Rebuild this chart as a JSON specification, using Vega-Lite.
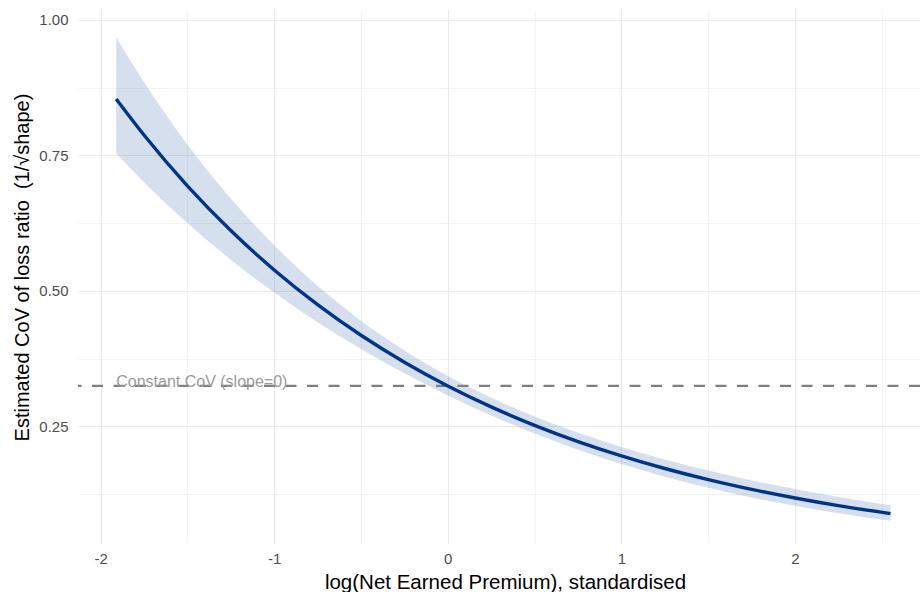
{
  "$schema": "https://vega.github.io/schema/vega-lite/v6.json",
  "width": 842,
  "height": 534,
  "autosize": {"type": "none"},
  "padding": {"left": 78, "top": 9, "right": 0, "bottom": 49},
  "background": "white",
  "config": {
    "view": {"stroke": null},
    "font": "Liberation Sans",
    "axis": {
      "domain": false,
      "ticks": false,
      "gridColor": "#ebebeb",
      "labelColor": "#4d4d4d",
      "labelFontSize": 15,
      "labelFont": "Liberation Sans",
      "titleFont": "Liberation Sans",
      "titleFontWeight": "normal",
      "titleColor": "#000000"
    }
  },
  "datasets": {
    "fit": [
      {"x": -1.91, "cov": 0.8540, "lo": 0.7533, "hi": 0.9681},
      {"x": -1.75, "cov": 0.7876, "lo": 0.7006, "hi": 0.8853},
      {"x": -1.5, "cov": 0.6939, "lo": 0.6252, "hi": 0.7701},
      {"x": -1.25, "cov": 0.6114, "lo": 0.5577, "hi": 0.6703},
      {"x": -1.0, "cov": 0.5387, "lo": 0.4970, "hi": 0.5840},
      {"x": -0.75, "cov": 0.4747, "lo": 0.4423, "hi": 0.5094},
      {"x": -0.5, "cov": 0.4182, "lo": 0.3929, "hi": 0.4451},
      {"x": -0.25, "cov": 0.3685, "lo": 0.3481, "hi": 0.3901},
      {"x": 0.0, "cov": 0.3247, "lo": 0.3073, "hi": 0.3430},
      {"x": 0.25, "cov": 0.2861, "lo": 0.2703, "hi": 0.3029},
      {"x": 0.5, "cov": 0.2521, "lo": 0.2368, "hi": 0.2683},
      {"x": 0.75, "cov": 0.2221, "lo": 0.2070, "hi": 0.2384},
      {"x": 1.0, "cov": 0.1957, "lo": 0.1805, "hi": 0.2121},
      {"x": 1.25, "cov": 0.1724, "lo": 0.1572, "hi": 0.1890},
      {"x": 1.5, "cov": 0.1519, "lo": 0.1369, "hi": 0.1686},
      {"x": 1.75, "cov": 0.1339, "lo": 0.1191, "hi": 0.1505},
      {"x": 2.0, "cov": 0.1180, "lo": 0.1036, "hi": 0.1344},
      {"x": 2.25, "cov": 0.1039, "lo": 0.0900, "hi": 0.1200},
      {"x": 2.55, "cov": 0.0893, "lo": 0.0761, "hi": 0.1048}
    ],
    "ref": [
      {"x": -1.91, "cov": 0.325, "label": "Constant CoV (slope=0)"}
    ]
  },
  "layer": [
    {
      "data": {"name": "fit"},
      "mark": {"type": "area", "color": "#00388c", "opacity": 0.16, "interpolate": "monotone"},
      "encoding": {
        "x": {
          "field": "x", "type": "quantitative",
          "scale": {"domain": [-2.13, 2.72], "nice": false, "zero": false},
          "axis": {
            "title": "log(Net Earned Premium), standardised",
            "titleFontSize": 20.5,
            "titleX": 427,
            "values": [-2, -1.5, -1, -0.5, 0, 0.5, 1, 1.5, 2, 2.5],
            "labelExpr": "datum.value % 1 == 0 ? '' + datum.value : ''",
            "labelPadding": 8,
            "titlePadding": 6,
            "gridWidth": {"condition": {"test": "datum.value % 1 == 0", "value": 1.1}, "value": 0.6}
          }
        },
        "y": {
          "field": "lo", "type": "quantitative",
          "scale": {"domain": [0.035, 1.02], "nice": false, "zero": false},
          "axis": {
            "title": "Estimated CoV of loss ratio\u00a0\u00a0(1/√shape)",
            "titleFontSize": 20,
            "titleX": -50,
            "titleY": 258,
            "titleAngle": -90,
            "titleAlign": "center",
            "titleBaseline": "alphabetic",
            "values": [0.125, 0.25, 0.375, 0.5, 0.625, 0.75, 0.875, 1.0],
            "labelExpr": "abs(datum.value * 4 - round(datum.value * 4)) < 0.000001 ? format(datum.value, '.2f') : ''",
            "labelPadding": 10,
            "gridWidth": {"condition": {"test": "abs(datum.value * 4 - round(datum.value * 4)) < 0.000001", "value": 1.1}, "value": 0.6}
          }
        },
        "y2": {"field": "hi"}
      }
    },
    {
      "data": {"name": "ref"},
      "mark": {"type": "rule", "color": "#7f7f7f", "strokeWidth": 2.2, "strokeDash": [11, 10.5]},
      "encoding": {
        "y": {"field": "cov", "type": "quantitative"}
      }
    },
    {
      "data": {"name": "ref"},
      "mark": {"type": "text", "align": "left", "baseline": "alphabetic", "dy": 1.5, "color": "#9a9a9a", "fontSize": 16, "font": "Liberation Sans"},
      "encoding": {
        "x": {"field": "x", "type": "quantitative"},
        "y": {"field": "cov", "type": "quantitative"},
        "text": {"field": "label"}
      }
    },
    {
      "data": {"name": "fit"},
      "mark": {"type": "line", "color": "#003585", "strokeWidth": 3.4, "interpolate": "monotone"},
      "encoding": {
        "x": {"field": "x", "type": "quantitative"},
        "y": {"field": "cov", "type": "quantitative"}
      }
    }
  ]
}
